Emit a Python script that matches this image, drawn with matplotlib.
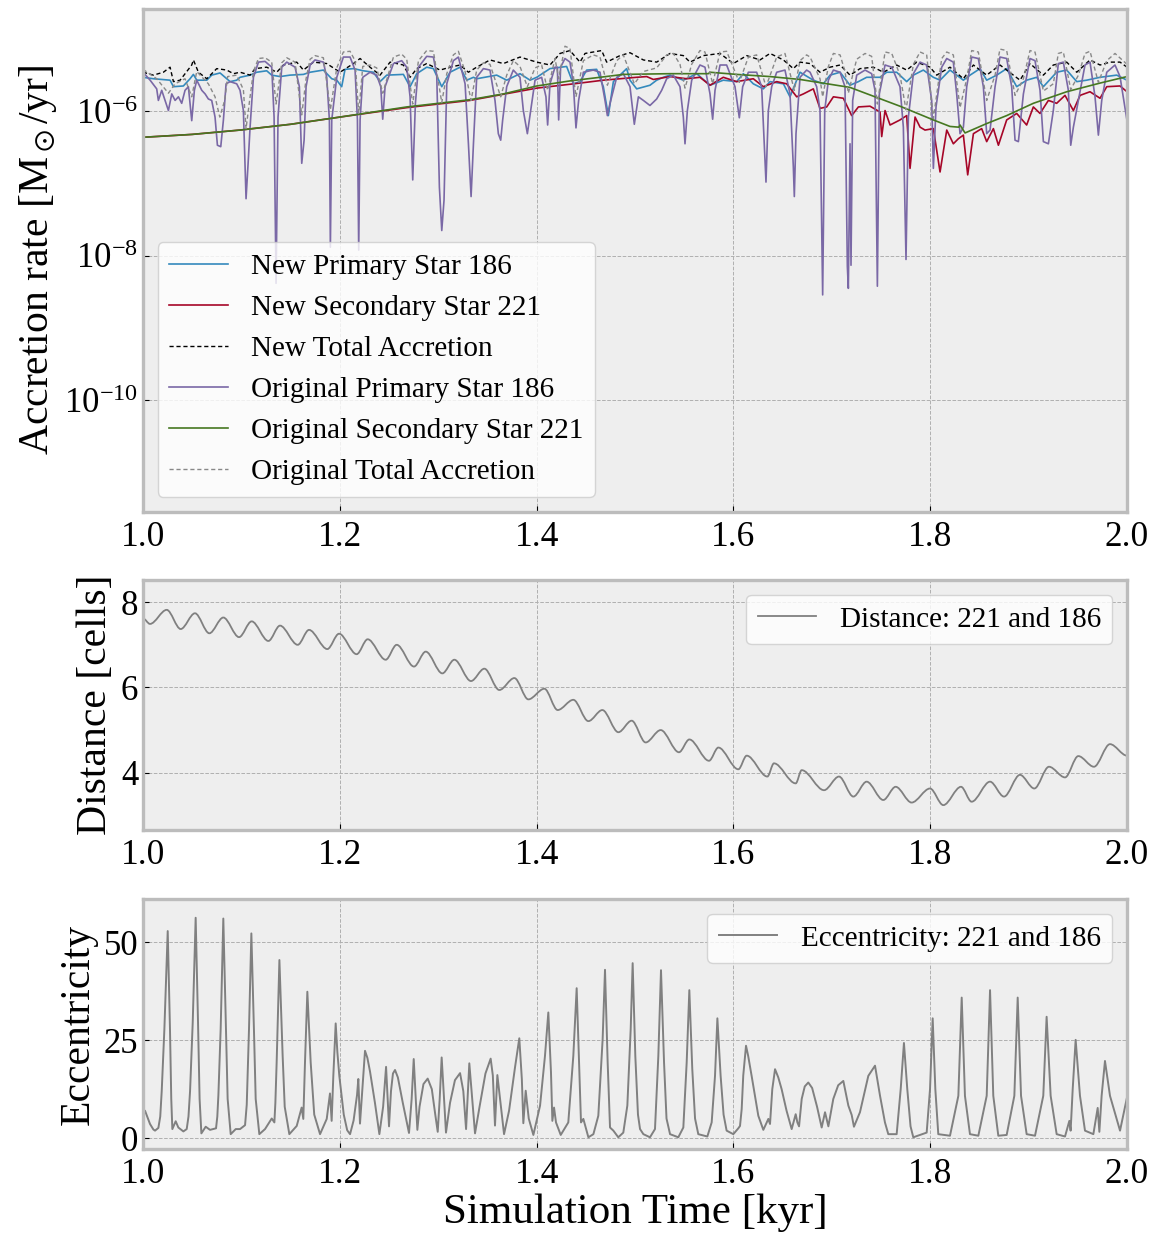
import numpy as np
import matplotlib
matplotlib.use("Agg")
import matplotlib.pyplot as plt
from matplotlib.path import Path
from matplotlib.patches import PathPatch
from matplotlib.ticker import FixedLocator, NullLocator, LogFormatterSciNotation

# ---------------------------------------------------------------------------
# Accretion rates, stored as (time [kyr], log10 rate [Msun/yr])
# ---------------------------------------------------------------------------
NEW_PRIMARY = [
    (1.0000, -5.53), (1.0105, -5.55), (1.0275, -5.57), (1.0309, -5.66), (1.0410, -5.65),
    (1.0478, -5.55), (1.0512, -5.49), (1.0546, -5.57), (1.0648, -5.57), (1.0698, -5.50),
    (1.0783, -5.47), (1.0885, -5.59), (1.0952, -5.57), (1.0986, -5.53), (1.1088, -5.50),
    (1.1156, -5.46), (1.1257, -5.44), (1.1308, -5.50), (1.1393, -5.52), (1.1494, -5.50),
    (1.1630, -5.49), (1.1698, -5.46), (1.1833, -5.43), (1.1918, -5.55), (1.1969, -5.57),
    (1.2019, -5.66), (1.2053, -5.42), (1.2138, -5.41), (1.2240, -5.44), (1.2341, -5.46),
    (1.2409, -5.59), (1.2477, -5.50), (1.2646, -5.49), (1.2714, -5.66), (1.2782, -5.48),
    (1.2883, -5.39), (1.2951, -5.41), (1.3036, -5.66), (1.3120, -5.46), (1.3222, -5.39),
    (1.3290, -5.57), (1.3358, -5.53), (1.3391, -5.55), (1.3594, -5.50), (1.3696, -5.57),
    (1.3831, -5.48), (1.3933, -5.57), (1.4001, -5.53), (1.4136, -5.41), (1.4305, -5.38),
    (1.4373, -5.62), (1.4441, -5.59), (1.4509, -5.43), (1.4610, -5.42), (1.4678, -5.66),
    (1.4729, -6.06), (1.4780, -5.59), (1.4915, -5.41), (1.4949, -5.57), (1.5017, -5.69),
    (1.5152, -5.64), (1.5220, -5.57), (1.5288, -5.53), (1.5356, -5.50), (1.5491, -5.57),
    (1.5627, -5.48), (1.5762, -5.64), (1.5897, -5.57), (1.6033, -5.59), (1.6101, -5.48),
    (1.6202, -5.62), (1.6304, -5.69), (1.6372, -5.59), (1.6508, -5.62), (1.6575, -5.80),
    (1.6643, -5.57), (1.6677, -5.46), (1.6812, -5.57), (1.6914, -5.62), (1.6982, -5.50),
    (1.7084, -5.46), (1.7185, -5.64), (1.7270, -5.59), (1.7354, -5.53), (1.7490, -5.53),
    (1.7558, -5.46), (1.7659, -5.46), (1.7761, -5.59), (1.7829, -5.50), (1.7930, -5.43),
    (1.8032, -5.53), (1.8100, -5.57), (1.8201, -5.43), (1.8337, -5.57), (1.8405, -5.50),
    (1.8506, -5.41), (1.8574, -5.57), (1.8676, -5.50), (1.8777, -5.41), (1.8879, -5.66),
    (1.8980, -5.57), (1.9082, -5.53), (1.9150, -5.66), (1.9285, -5.46), (1.9387, -5.43),
    (1.9489, -5.59), (1.9590, -5.57), (1.9726, -5.53), (1.9895, -5.50), (2.0000, -5.57),
]

NEW_SECONDARY = [
    (1.0000, -6.36), (1.0500, -6.32), (1.0986, -6.26), (1.1500, -6.18), (1.2002, -6.08),
    (1.2680, -5.95), (1.3323, -5.85), (1.4001, -5.68), (1.4441, -5.61), (1.4678, -5.57),
    (1.5017, -5.53), (1.5119, -5.52), (1.5186, -5.56), (1.5356, -5.52), (1.5525, -5.55),
    (1.5660, -5.53), (1.5762, -5.64), (1.5897, -5.53), (1.6033, -5.59), (1.6202, -5.55),
    (1.6304, -5.66), (1.6440, -5.59), (1.6541, -5.62), (1.6643, -5.80), (1.6711, -5.76),
    (1.6812, -5.69), (1.6880, -5.96), (1.6948, -5.94), (1.7016, -5.80), (1.7117, -5.82),
    (1.7202, -6.06), (1.7270, -5.94), (1.7388, -5.93), (1.7490, -6.01), (1.7507, -6.35),
    (1.7541, -5.99), (1.7592, -6.19), (1.7693, -6.12), (1.7761, -6.06), (1.7795, -6.79),
    (1.7846, -6.08), (1.7897, -6.22), (1.7947, -6.26), (1.8032, -6.24), (1.8100, -6.84),
    (1.8168, -6.26), (1.8235, -6.45), (1.8286, -6.38), (1.8337, -6.33), (1.8381, -6.88),
    (1.8439, -6.31), (1.8523, -6.24), (1.8574, -6.42), (1.8642, -6.24), (1.8693, -6.47),
    (1.8777, -6.12), (1.8879, -6.03), (1.8980, -6.19), (1.9048, -5.94), (1.9116, -6.03),
    (1.9201, -5.85), (1.9285, -5.89), (1.9370, -5.78), (1.9455, -5.99), (1.9523, -5.78),
    (1.9624, -5.73), (1.9726, -5.82), (1.9794, -5.66), (1.9929, -5.65), (2.0000, -5.73),
]

NEW_TOTAL = [
    (1.0000, -5.46), (1.0105, -5.50), (1.0207, -5.46), (1.0275, -5.39), (1.0309, -5.59),
    (1.0377, -5.57), (1.0495, -5.36), (1.0512, -5.29), (1.0563, -5.46), (1.0648, -5.55),
    (1.0749, -5.41), (1.0851, -5.43), (1.0919, -5.48), (1.0986, -5.46), (1.1088, -5.50),
    (1.1139, -5.41), (1.1257, -5.39), (1.1359, -5.46), (1.1427, -5.36), (1.1562, -5.32),
    (1.1630, -5.43), (1.1732, -5.32), (1.1867, -5.34), (1.2002, -5.46), (1.2138, -5.34),
    (1.2206, -5.27), (1.2307, -5.39), (1.2409, -5.50), (1.2511, -5.32), (1.2646, -5.36),
    (1.2714, -5.53), (1.2782, -5.41), (1.2883, -5.34), (1.3019, -5.43), (1.3120, -5.39),
    (1.3222, -5.36), (1.3307, -5.46), (1.3391, -5.39), (1.3526, -5.29), (1.3662, -5.34),
    (1.3831, -5.25), (1.4001, -5.32), (1.4136, -5.36), (1.4238, -5.20), (1.4339, -5.16),
    (1.4441, -5.32), (1.4492, -5.20), (1.4661, -5.16), (1.4712, -5.32), (1.4847, -5.23),
    (1.4949, -5.19), (1.5085, -5.29), (1.5220, -5.32), (1.5356, -5.20), (1.5491, -5.23),
    (1.5559, -5.32), (1.5694, -5.23), (1.5864, -5.20), (1.5999, -5.34), (1.6135, -5.23),
    (1.6270, -5.29), (1.6372, -5.20), (1.6508, -5.29), (1.6609, -5.41), (1.6677, -5.32),
    (1.6779, -5.34), (1.6880, -5.46), (1.6982, -5.39), (1.7084, -5.36), (1.7185, -5.50),
    (1.7287, -5.41), (1.7422, -5.39), (1.7524, -5.46), (1.7659, -5.36), (1.7761, -5.43),
    (1.7863, -5.32), (1.7998, -5.39), (1.8066, -5.50), (1.8201, -5.39), (1.8337, -5.55),
    (1.8439, -5.36), (1.8574, -5.50), (1.8709, -5.36), (1.8845, -5.50), (1.8913, -5.57),
    (1.9014, -5.34), (1.9150, -5.50), (1.9251, -5.36), (1.9387, -5.32), (1.9489, -5.46),
    (1.9624, -5.29), (1.9726, -5.36), (1.9828, -5.32), (1.9929, -5.32), (2.0000, -5.39),
]

ORIG_PRIMARY = [
    (1.0000, -5.46), (1.0072, -5.57), (1.0139, -5.69), (1.0156, -5.85), (1.0190, -5.71),
    (1.0258, -5.99), (1.0292, -5.76), (1.0326, -5.85), (1.0360, -5.80), (1.0393, -5.89),
    (1.0427, -5.71), (1.0461, -5.66), (1.0495, -6.13), (1.0522, -5.71), (1.0546, -5.57),
    (1.0597, -5.71), (1.0631, -5.76), (1.0664, -5.83), (1.0698, -5.85), (1.0732, -6.08),
    (1.0756, -6.47), (1.0790, -6.49), (1.0817, -6.12), (1.0844, -5.62), (1.0885, -5.59),
    (1.0952, -5.62), (1.0986, -5.71), (1.1020, -5.99), (1.1047, -7.21), (1.1068, -6.72),
    (1.1088, -6.22), (1.1122, -5.53), (1.1173, -5.32), (1.1240, -5.31), (1.1308, -5.39),
    (1.1332, -6.08), (1.1352, -8.38), (1.1372, -6.08), (1.1410, -5.39), (1.1461, -5.32),
    (1.1545, -5.39), (1.1589, -5.66), (1.1613, -6.72), (1.1637, -6.40), (1.1657, -5.66),
    (1.1698, -5.36), (1.1748, -5.29), (1.1833, -5.32), (1.1867, -5.53), (1.1894, -6.12),
    (1.1904, -7.88), (1.1918, -6.12), (1.1969, -5.53), (1.2036, -5.25), (1.2104, -5.25),
    (1.2155, -5.43), (1.2179, -6.12), (1.2192, -7.92), (1.2206, -6.12), (1.2233, -5.53),
    (1.2307, -5.46), (1.2375, -5.50), (1.2416, -5.66), (1.2436, -6.11), (1.2460, -5.66),
    (1.2545, -5.34), (1.2629, -5.30), (1.2680, -5.39), (1.2714, -5.80), (1.2741, -6.95),
    (1.2768, -5.89), (1.2799, -5.39), (1.2883, -5.24), (1.2951, -5.25), (1.2985, -5.50),
    (1.3012, -7.05), (1.3036, -7.65), (1.3059, -7.23), (1.3087, -5.62), (1.3154, -5.30),
    (1.3205, -5.25), (1.3273, -5.62), (1.3307, -6.45), (1.3334, -7.18), (1.3358, -6.45),
    (1.3391, -5.53), (1.3459, -5.41), (1.3526, -5.43), (1.3577, -5.85), (1.3611, -6.31),
    (1.3635, -6.40), (1.3655, -6.12), (1.3696, -5.66), (1.3763, -5.43), (1.3831, -5.53),
    (1.3865, -5.99), (1.3906, -6.31), (1.3940, -5.99), (1.3984, -5.57), (1.4051, -5.53),
    (1.4095, -5.80), (1.4112, -6.19), (1.4136, -5.62), (1.4187, -5.39), (1.4211, -5.39),
    (1.4224, -6.12), (1.4244, -5.39), (1.4288, -5.27), (1.4339, -5.32), (1.4373, -5.62),
    (1.4400, -6.23), (1.4427, -5.85), (1.4475, -5.46), (1.4576, -5.43), (1.4644, -5.46),
    (1.4695, -5.85), (1.4719, -6.06), (1.4746, -5.89), (1.4814, -5.53), (1.4881, -5.48),
    (1.4949, -5.66), (1.4993, -6.18), (1.5034, -5.80), (1.5085, -5.85), (1.5152, -5.92),
    (1.5220, -5.83), (1.5271, -5.71), (1.5322, -5.55), (1.5389, -5.50), (1.5457, -5.66),
    (1.5491, -6.08), (1.5508, -6.45), (1.5532, -5.99), (1.5576, -5.57), (1.5660, -5.36),
    (1.5711, -5.39), (1.5762, -5.76), (1.5789, -6.11), (1.5813, -5.71), (1.5864, -5.36),
    (1.5931, -5.36), (1.6016, -5.66), (1.6060, -6.09), (1.6094, -5.66), (1.6152, -5.46),
    (1.6236, -5.46), (1.6287, -5.66), (1.6331, -6.98), (1.6355, -5.99), (1.6389, -5.66),
    (1.6440, -5.46), (1.6524, -5.43), (1.6575, -5.76), (1.6609, -6.77), (1.6619, -7.18),
    (1.6636, -6.31), (1.6677, -5.53), (1.6744, -5.43), (1.6779, -5.46), (1.6846, -5.66),
    (1.6880, -5.99), (1.6907, -8.54), (1.6928, -5.99), (1.6965, -5.57), (1.7016, -5.43),
    (1.7084, -5.46), (1.7134, -5.66), (1.7158, -8.15), (1.7168, -8.45), (1.7185, -6.45),
    (1.7195, -8.13), (1.7212, -5.85), (1.7253, -5.50), (1.7338, -5.43), (1.7405, -5.48),
    (1.7439, -5.71), (1.7463, -8.42), (1.7483, -5.76), (1.7541, -5.36), (1.7609, -5.39),
    (1.7693, -5.66), (1.7727, -6.22), (1.7754, -8.05), (1.7778, -6.08), (1.7829, -5.48),
    (1.7897, -5.32), (1.7964, -5.36), (1.8015, -5.85), (1.8032, -6.79), (1.8059, -5.94),
    (1.8117, -5.39), (1.8168, -5.27), (1.8235, -5.32), (1.8269, -5.76), (1.8303, -6.31),
    (1.8337, -6.22), (1.8371, -5.66), (1.8422, -5.25), (1.8489, -5.27), (1.8540, -5.66),
    (1.8574, -6.31), (1.8608, -6.26), (1.8659, -5.66), (1.8709, -5.25), (1.8777, -5.27),
    (1.8828, -5.66), (1.8862, -6.40), (1.8896, -6.42), (1.8947, -5.76), (1.9014, -5.27),
    (1.9065, -5.30), (1.9116, -5.71), (1.9150, -6.42), (1.9201, -6.45), (1.9251, -5.99),
    (1.9302, -5.34), (1.9353, -5.32), (1.9404, -5.71), (1.9428, -6.47), (1.9455, -6.22),
    (1.9506, -5.85), (1.9573, -5.36), (1.9624, -5.32), (1.9675, -5.80), (1.9709, -6.33),
    (1.9743, -5.85), (1.9794, -5.46), (1.9878, -5.36), (1.9929, -5.52), (2.0000, -6.13),
]

ORIG_SECONDARY = [
    (1.0000, -6.36), (1.0500, -6.32), (1.0986, -6.26), (1.1500, -6.18), (1.2002, -6.08),
    (1.2680, -5.94), (1.3323, -5.84), (1.3662, -5.76), (1.4001, -5.65), (1.4339, -5.58),
    (1.4644, -5.53), (1.4881, -5.49), (1.5356, -5.48), (1.5745, -5.48), (1.5762, -5.46),
    (1.6033, -5.49), (1.6372, -5.52), (1.6677, -5.56), (1.7185, -5.67), (1.7693, -5.93),
    (1.8032, -6.12), (1.8201, -6.21), (1.8290, -6.22), (1.8303, -6.19), (1.8354, -6.30),
    (1.8574, -6.17), (1.8777, -6.06), (1.9048, -5.89), (1.9387, -5.73), (1.9726, -5.61),
    (2.0000, -5.52),
]

ORIG_TOTAL = [
    (1.0000, -5.42), (1.0139, -5.55), (1.0258, -5.75), (1.0326, -5.62), (1.0427, -5.55),
    (1.0495, -5.80), (1.0546, -5.45), (1.0664, -5.62), (1.0732, -5.80), (1.0780, -6.08),
    (1.0830, -5.85), (1.0860, -5.52), (1.0952, -5.50), (1.1020, -5.70), (1.1047, -6.24),
    (1.1088, -5.80), (1.1122, -5.45), (1.1173, -5.27), (1.1240, -5.26), (1.1308, -5.32),
    (1.1352, -5.90), (1.1410, -5.33), (1.1461, -5.26), (1.1545, -5.32), (1.1613, -6.05),
    (1.1657, -5.55), (1.1698, -5.28), (1.1748, -5.23), (1.1833, -5.26), (1.1904, -5.98),
    (1.1969, -5.40), (1.2036, -5.18), (1.2104, -5.17), (1.2155, -5.30), (1.2192, -6.03),
    (1.2233, -5.38), (1.2307, -5.36), (1.2375, -5.40), (1.2436, -5.75), (1.2545, -5.25),
    (1.2629, -5.21), (1.2680, -5.28), (1.2741, -5.90), (1.2799, -5.30), (1.2883, -5.16),
    (1.2951, -5.17), (1.3036, -5.88), (1.3087, -5.48), (1.3154, -5.22), (1.3205, -5.17),
    (1.3273, -5.45), (1.3334, -5.85), (1.3391, -5.43), (1.3459, -5.33), (1.3526, -5.35),
    (1.3635, -5.80), (1.3696, -5.50), (1.3763, -5.30), (1.3831, -5.38), (1.3906, -5.66),
    (1.3984, -5.40), (1.4051, -5.36), (1.4112, -5.71), (1.4187, -5.27), (1.4224, -5.55),
    (1.4288, -5.10), (1.4339, -5.13), (1.4400, -5.80), (1.4475, -5.30), (1.4576, -5.22),
    (1.4644, -5.25), (1.4719, -5.64), (1.4814, -5.30), (1.4881, -5.22), (1.4993, -5.62),
    (1.5085, -5.45), (1.5220, -5.40), (1.5322, -5.22), (1.5389, -5.20), (1.5457, -5.35),
    (1.5508, -5.68), (1.5576, -5.35), (1.5660, -5.16), (1.5711, -5.18), (1.5789, -5.62),
    (1.5864, -5.18), (1.5931, -5.17), (1.6060, -5.60), (1.6152, -5.25), (1.6236, -5.22),
    (1.6331, -5.66), (1.6440, -5.25), (1.6524, -5.20), (1.6619, -5.71), (1.6677, -5.30),
    (1.6744, -5.22), (1.6779, -5.25), (1.6880, -5.55), (1.6907, -5.80), (1.6965, -5.38),
    (1.7016, -5.20), (1.7084, -5.22), (1.7134, -5.45), (1.7168, -5.75), (1.7212, -5.50),
    (1.7253, -5.28), (1.7338, -5.20), (1.7405, -5.24), (1.7463, -5.90), (1.7541, -5.18),
    (1.7609, -5.20), (1.7693, -5.50), (1.7754, -5.98), (1.7829, -5.35), (1.7897, -5.18),
    (1.7964, -5.22), (1.8032, -6.10), (1.8117, -5.27), (1.8168, -5.18), (1.8235, -5.22),
    (1.8303, -5.95), (1.8371, -5.55), (1.8422, -5.16), (1.8489, -5.18), (1.8574, -5.85),
    (1.8659, -5.50), (1.8709, -5.14), (1.8777, -5.16), (1.8862, -5.78), (1.8947, -5.55),
    (1.9014, -5.16), (1.9065, -5.18), (1.9150, -5.72), (1.9251, -5.62), (1.9302, -5.20),
    (1.9353, -5.18), (1.9428, -5.70), (1.9506, -5.50), (1.9573, -5.20), (1.9624, -5.17),
    (1.9709, -5.60), (1.9794, -5.30), (1.9878, -5.20), (2.0000, -5.35),
]

# Separation of the pair: successive turning points (time [kyr], distance [cells])
DISTANCE = [
    (1.0000, 7.62), (1.0071, 7.49), (1.0241, 7.82), (1.0383, 7.37), (1.0528, 7.74),
    (1.0674, 7.27), (1.0816, 7.64), (1.0976, 7.18), (1.1104, 7.55), (1.1274, 7.09),
    (1.1392, 7.45), (1.1572, 7.00), (1.1687, 7.35), (1.1873, 6.90), (1.1992, 7.26),
    (1.2171, 6.78), (1.2283, 7.13), (1.2466, 6.65), (1.2578, 7.00), (1.2754, 6.49),
    (1.2873, 6.84), (1.3042, 6.33), (1.3164, 6.65), (1.3333, 6.15), (1.3469, 6.44),
    (1.3621, 5.94), (1.3774, 6.22), (1.3916, 5.72), (1.4079, 5.97), (1.4214, 5.47),
    (1.4373, 5.71), (1.4526, 5.21), (1.4668, 5.47), (1.4831, 4.95), (1.4966, 5.22),
    (1.5108, 4.71), (1.5261, 5.00), (1.5447, 4.48), (1.5552, 4.78), (1.5752, 4.28),
    (1.5847, 4.59), (1.6050, 4.08), (1.6135, 4.40), (1.6345, 3.91), (1.6412, 4.22),
    (1.6633, 3.75), (1.6694, 4.06), (1.6921, 3.59), (1.7073, 3.91), (1.7219, 3.44),
    (1.7354, 3.79), (1.7523, 3.36), (1.7649, 3.67), (1.7811, 3.30), (1.7998, 3.63),
    (1.8133, 3.24), (1.8313, 3.67), (1.8421, 3.32), (1.8608, 3.79), (1.8750, 3.44),
    (1.8912, 3.95), (1.9058, 3.63), (1.9207, 4.14), (1.9370, 3.89), (1.9505, 4.39),
    (1.9664, 4.14), (1.9827, 4.67), (2.0000, 4.40),
]

# Orbital eccentricity of the pair (time [kyr], eccentricity)
ECCENTRICITY = [
    (1.0000, 6.2), (1.0020, 7.0), (1.0071, 3.6), (1.0105, 2.2), (1.0122, 1.9), (1.0156, 2.6),
    (1.0175, 5.5), (1.0190, 12.0), (1.0217, 27.8), (1.0251, 52.9), (1.0274, 27.8), (1.0287, 10.0),
    (1.0298, 2.3), (1.0332, 4.3), (1.0359, 2.7), (1.0410, 1.7), (1.0444, 2.3), (1.0462, 5.5),
    (1.0478, 12.0), (1.0505, 29.5), (1.0535, 56.3), (1.0559, 29.5), (1.0575, 10.0), (1.0593, 1.2),
    (1.0637, 2.9), (1.0681, 2.1), (1.0742, 2.5), (1.0755, 5.5), (1.0766, 11.0), (1.0789, 27.8),
    (1.0816, 56.1), (1.0843, 27.8), (1.0860, 10.0), (1.0891, 1.0), (1.0942, 2.3), (1.0986, 2.3),
    (1.1037, 3.3), (1.1054, 8.5), (1.1077, 27.8), (1.1101, 52.3), (1.1128, 27.0), (1.1145, 10.0),
    (1.1182, 1.0), (1.1240, 2.3), (1.1308, 5.0), (1.1335, 4.0), (1.1345, 9.0), (1.1358, 19.3),
    (1.1386, 45.5), (1.1419, 21.0), (1.1440, 8.0), (1.1487, 1.0), (1.1562, 3.1), (1.1612, 7.8),
    (1.1629, 4.9), (1.1646, 19.3), (1.1670, 37.4), (1.1704, 19.3), (1.1740, 6.0), (1.1799, 1.0),
    (1.1867, 4.9), (1.1900, 11.4), (1.1917, 4.4), (1.1934, 15.9), (1.1958, 29.3), (1.1975, 22.0),
    (1.1995, 15.9), (1.2040, 6.0), (1.2075, 2.0), (1.2104, 1.0), (1.2140, 4.5), (1.2175, 11.0),
    (1.2188, 15.1), (1.2205, 3.7), (1.2230, 13.0), (1.2256, 22.3), (1.2280, 20.5), (1.2307, 17.0),
    (1.2357, 9.0), (1.2402, 1.0), (1.2440, 8.0), (1.2470, 18.2), (1.2500, 3.0), (1.2520, 12.0),
    (1.2540, 16.5), (1.2561, 17.4), (1.2590, 15.5), (1.2640, 9.0), (1.2703, 1.3), (1.2730, 10.0),
    (1.2751, 20.2), (1.2788, 2.1), (1.2810, 8.0), (1.2850, 13.8), (1.2893, 15.2), (1.2935, 12.5),
    (1.2970, 6.0), (1.2995, 1.6), (1.3015, 10.0), (1.3035, 20.6), (1.3079, 1.4), (1.3120, 9.0),
    (1.3170, 14.8), (1.3222, 16.6), (1.3255, 12.0), (1.3283, 2.3), (1.3300, 11.0), (1.3316, 19.1),
    (1.3374, 1.2), (1.3420, 8.0), (1.3480, 16.5), (1.3533, 20.3), (1.3555, 16.0), (1.3577, 3.2),
    (1.3601, 16.1), (1.3669, 1.0), (1.3720, 7.0), (1.3780, 18.0), (1.3824, 25.5), (1.3850, 15.0),
    (1.3865, 3.8), (1.3889, 12.1), (1.3920, 5.0), (1.3967, 0.8), (1.4035, 8.3), (1.4085, 21.0),
    (1.4119, 32.1), (1.4146, 16.8), (1.4160, 4.4), (1.4177, 7.8), (1.4197, 4.0), (1.4245, 0.8),
    (1.4322, 4.0), (1.4373, 21.0), (1.4407, 38.3), (1.4434, 16.8), (1.4451, 4.0), (1.4475, 4.9),
    (1.4526, 0.2), (1.4577, 1.0), (1.4627, 5.7), (1.4671, 25.3), (1.4695, 43.0), (1.4722, 19.3),
    (1.4746, 2.7), (1.4780, 1.9), (1.4830, 0.2), (1.4881, 1.4), (1.4922, 8.3), (1.4956, 27.8),
    (1.4976, 44.7), (1.5003, 21.0), (1.5030, 6.0), (1.5051, 2.3), (1.5085, 1.0), (1.5152, 0.2),
    (1.5203, 2.3), (1.5237, 21.0), (1.5264, 42.9), (1.5295, 19.3), (1.5320, 5.0), (1.5356, 1.0),
    (1.5440, 0.2), (1.5491, 2.7), (1.5525, 19.3), (1.5552, 37.8), (1.5582, 17.6), (1.5610, 5.0),
    (1.5643, 1.0), (1.5735, 0.4), (1.5779, 4.0), (1.5813, 15.9), (1.5837, 30.6), (1.5870, 15.9),
    (1.5900, 6.0), (1.5931, 1.9), (1.5999, 1.0), (1.6050, 2.5), (1.6067, 3.1), (1.6084, 7.4),
    (1.6100, 16.0), (1.6128, 23.6), (1.6150, 21.0), (1.6185, 15.9), (1.6253, 5.7), (1.6304, 2.1),
    (1.6345, 4.4), (1.6355, 4.9), (1.6372, 3.6), (1.6395, 12.5), (1.6423, 17.6), (1.6456, 15.5),
    (1.6490, 12.5), (1.6540, 7.0), (1.6592, 2.3), (1.6633, 6.1), (1.6650, 4.0), (1.6667, 3.0),
    (1.6694, 10.0), (1.6725, 13.2), (1.6761, 14.2), (1.6800, 12.8), (1.6850, 8.0), (1.6897, 2.7),
    (1.6931, 6.6), (1.6965, 3.0), (1.7015, 10.0), (1.7065, 13.5), (1.7117, 14.6), (1.7168, 8.3),
    (1.7202, 5.9), (1.7225, 2.9), (1.7286, 6.6), (1.7371, 15.9), (1.7439, 18.5), (1.7490, 10.8),
    (1.7540, 4.0), (1.7574, 1.0), (1.7659, 1.0), (1.7700, 12.5), (1.7733, 24.3), (1.7767, 12.5),
    (1.7800, 3.0), (1.7828, 0.2), (1.7964, 1.4), (1.7998, 12.5), (1.8025, 30.6), (1.8052, 12.5),
    (1.8082, 1.0), (1.8201, 0.6), (1.8286, 10.8), (1.8320, 35.9), (1.8353, 10.8), (1.8404, 1.0),
    (1.8489, 0.6), (1.8574, 10.8), (1.8608, 37.8), (1.8641, 10.8), (1.8692, 0.6), (1.8777, 0.8),
    (1.8855, 10.8), (1.8889, 35.9), (1.8923, 10.8), (1.8980, 1.0), (1.9065, 0.6), (1.9149, 10.8),
    (1.9183, 31.0), (1.9224, 10.8), (1.9285, 1.0), (1.9370, 0.4), (1.9414, 4.4), (1.9427, 1.9),
    (1.9448, 12.5), (1.9478, 25.1), (1.9522, 10.8), (1.9573, 1.9), (1.9658, 1.0), (1.9702, 7.7),
    (1.9719, 1.6), (1.9742, 10.8), (1.9776, 19.7), (1.9827, 10.8), (1.9929, 1.9), (2.0000, 10.4),
]

TIME_TICKS = [1.0, 1.2, 1.4, 1.6, 1.8, 2.0]
RATE_TICKS = [1e-10, 1e-8, 1e-6]
DISTANCE_TICKS = [4, 6, 8]
ECC_TICKS = [0, 25, 50]

# ---------------------------------------------------------------------------
plt.rcParams.update({
    "font.family": ["Liberation Serif", "DejaVu Serif"],
    "mathtext.fontset": "stix",
    "axes.facecolor": "#eeeeee",
    "axes.edgecolor": "#bcbcbc",
    "axes.linewidth": 2.4,
    "grid.color": "#b0b0b0",
    "grid.linestyle": "--",
    "grid.linewidth": 0.7,
    "xtick.direction": "in",
    "ytick.direction": "in",
    "xtick.major.size": 4,
    "ytick.major.size": 4,
    "xtick.major.pad": 6.5,
    "xtick.labelsize": 25.5,
    "ytick.labelsize": 25,
    "axes.labelsize": 30,
    "legend.fontsize": 21,
    "legend.facecolor": "white",
    "legend.edgecolor": "0.8",
})


def series(pairs, log=False):
    arr = np.array(pairs, dtype=float)
    t, v = arr[:, 0], arr[:, 1]
    return (t, 10.0 ** v) if log else (t, v)


def smooth_through(ax, pairs, **kw):
    """Draw a smooth curve through turning points (flat tangents at each)."""
    t, v = series(pairs)
    verts = [(t[0], v[0])]
    codes = [Path.MOVETO]
    for i in range(1, len(t)):
        dt = (t[i] - t[i - 1]) / 3.0
        verts += [(t[i - 1] + dt, v[i - 1]), (t[i] - dt, v[i]), (t[i], v[i])]
        codes += [Path.CURVE4] * 3
    ax.add_patch(PathPatch(Path(verts, codes), fill=False, **kw))


def style_axis(ax):
    ax.set_xlim(1.0, 2.0)
    ax.xaxis.set_major_locator(FixedLocator(TIME_TICKS))
    ax.set_xticklabels([f"{t:.1f}" for t in TIME_TICKS])
    ax.grid(True)
    ax.set_axisbelow(True)
    ax.tick_params(which="major", color="k", width=0.8, top=False, right=False)


fig = plt.figure(figsize=(11.59, 12.33), dpi=100)
ax_acc = fig.add_axes([0.1234, 0.5850, 0.8490, 0.4080])
ax_dist = fig.add_axes([0.1234, 0.3268, 0.8490, 0.2028])
ax_ecc = fig.add_axes([0.1234, 0.0681, 0.8490, 0.2028])

# --- accretion rates -------------------------------------------------------
lw = 1.2
ax_acc.plot(*series(NEW_PRIMARY, log=True), color="#348ABD", lw=lw,
            label="New Primary Star 186")
ax_acc.plot(*series(NEW_SECONDARY, log=True), color="#A60628", lw=lw,
            label="New Secondary Star 221")
ax_acc.plot(*series(NEW_TOTAL, log=True), color="black", lw=1.0,
            linestyle=(0, (3, 2)), label="New Total Accretion")
ax_acc.plot(*series(ORIG_PRIMARY, log=True), color="#7A68A6", lw=lw,
            label="Original Primary Star 186")
ax_acc.plot(*series(ORIG_SECONDARY, log=True), color="#467821", lw=lw,
            label="Original Secondary Star 221")
ax_acc.plot(*series(ORIG_TOTAL, log=True), color="#888888", lw=1.0,
            linestyle=(0, (3, 2)), label="Original Total Accretion")
ax_acc.set_yscale("log")
ax_acc.set_ylim(10 ** -11.54, 10 ** -4.58)
ax_acc.yaxis.set_major_locator(FixedLocator(RATE_TICKS))
ax_acc.yaxis.set_major_formatter(LogFormatterSciNotation())
ax_acc.yaxis.set_minor_locator(NullLocator())
style_axis(ax_acc)
ax_acc.set_ylabel(r"Accretion rate [M$_\odot$/yr]")
ax_acc.legend(loc="lower left")

# --- separation ------------------------------------------------------------
smooth_through(ax_dist, DISTANCE, edgecolor="#808080", lw=1.3)
ax_dist.plot([], [], color="#808080", lw=1.3, label="Distance: 221 and 186")
ax_dist.set_ylim(2.655, 8.52)
ax_dist.yaxis.set_major_locator(FixedLocator(DISTANCE_TICKS))
style_axis(ax_dist)
ax_dist.set_ylabel("Distance [cells]")
ax_dist.legend(loc="upper right")

# --- eccentricity ----------------------------------------------------------
ax_ecc.plot(*series(ECCENTRICITY), color="#808080", lw=1.4,
            label="Eccentricity: 221 and 186")
ax_ecc.set_ylim(-2.8, 61.1)
ax_ecc.yaxis.set_major_locator(FixedLocator(ECC_TICKS))
style_axis(ax_ecc)
ax_ecc.set_ylabel("Eccentricity")
ax_ecc.set_xlabel("Simulation Time [kyr]", fontsize=31, labelpad=2)
ax_ecc.legend(loc="upper right")

fig.savefig("out.png", dpi=100)
